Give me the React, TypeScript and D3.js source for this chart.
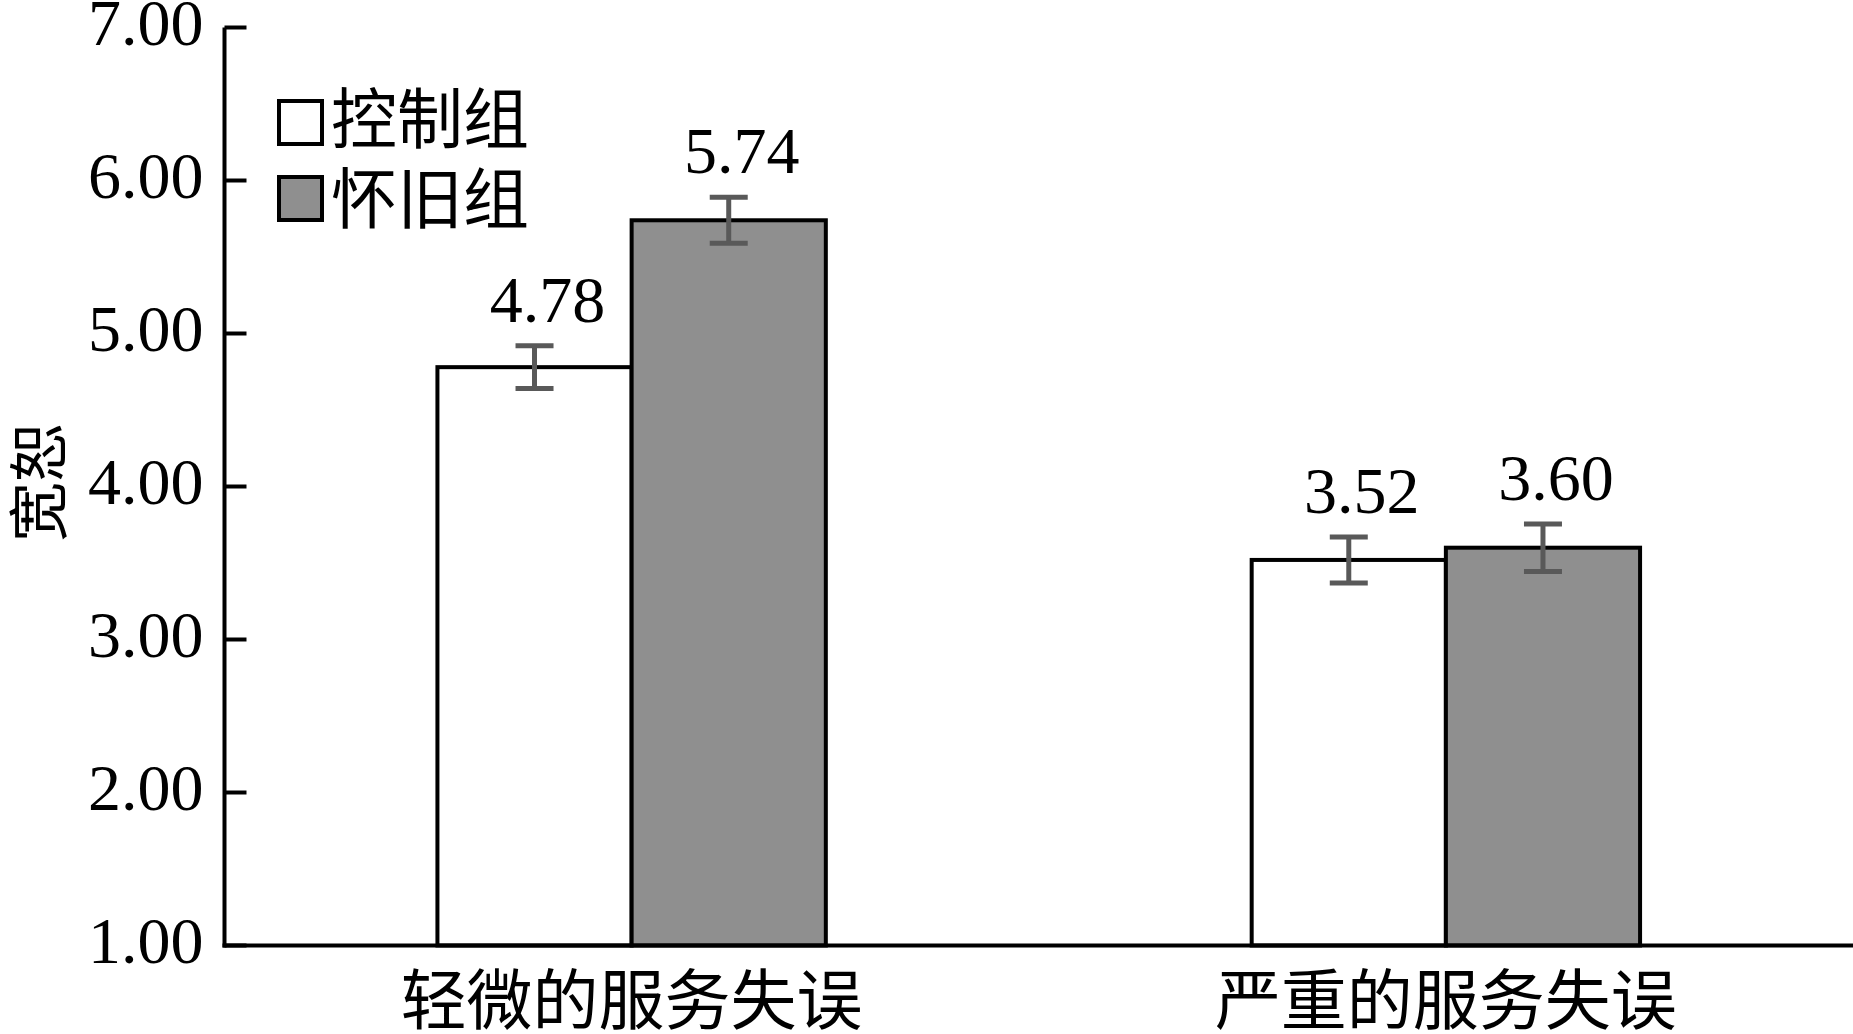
import React from "react";
import * as d3 from "d3";

const categories = ["轻微的服务失误", "严重的服务失误"];
const seriesNames = ["控制组", "怀旧组"];
const seriesColors = ["#ffffff", "#8f8f8f"];
const controlValues = [4.78, 3.52];
const nostalgiaValues = [5.74, 3.6];
const controlErrors = [0.14, 0.15];
const nostalgiaErrors = [0.15, 0.155];
const yTicks = [1, 2, 3, 4, 5, 6, 7];
const yLabel = "宽恕";

const W = 1853;
const H = 1034;
const left = 224.5;
const right = 1853;
const top = 27.5;
const bottom = 945.5;

const serif = "'Liberation Serif', 'Times New Roman', serif";
const cjk = "'Noto Sans CJK SC', 'Noto Sans CJK JP', sans-serif";

export default function App() {
  const x = d3.scaleBand<string>().domain(categories).range([left, right]).paddingInner(0.523).paddingOuter(0.2615);
  const inner = d3.scaleBand<string>().domain(seriesNames).range([0, x.bandwidth()]);
  const y = d3.scaleLinear().domain([1, 7]).range([bottom, top]);

  const series = [
    { name: seriesNames[0], values: controlValues, errors: controlErrors, color: seriesColors[0] },
    { name: seriesNames[1], values: nostalgiaValues, errors: nostalgiaErrors, color: seriesColors[1] },
  ];

  return (
    <svg width={W} height={H} style={{ position: "absolute", left: 0, top: 0, background: "#fff" }}>
      {/* bars */}
      {categories.map((c, ci) =>
        series.map((s) => {
          const bx = (x(c) as number) + (inner(s.name) as number);
          const bw = inner.bandwidth();
          const v = s.values[ci];
          return (
            <rect key={c + s.name} x={bx} y={y(v)} width={bw} height={bottom - y(v)} fill={s.color} stroke="#000" strokeWidth={4} />
          );
        })
      )}
      {/* error bars & labels */}
      {categories.map((c, ci) =>
        series.map((s) => {
          const cx = (x(c) as number) + (inner(s.name) as number) + inner.bandwidth() / 2;
          const v = s.values[ci];
          const e = s.errors[ci];
          const y1 = y(v + e);
          const y0 = y(v - e);
          const cap = 19;
          return (
            <g key={"e" + c + s.name}>
              <line x1={cx} x2={cx} y1={y1} y2={y0} stroke="#595959" strokeWidth={5} />
              <line x1={cx - cap} x2={cx + cap} y1={y1} y2={y1} stroke="#595959" strokeWidth={5} />
              <line x1={cx - cap} x2={cx + cap} y1={y0} y2={y0} stroke="#595959" strokeWidth={5} />
              <text x={cx + 13} y={y1 - 24} textAnchor="middle" fontFamily={serif} fontSize={66} fill="#000">
                {v.toFixed(2)}
              </text>
            </g>
          );
        })
      )}
      {/* axes */}
      <line x1={left} x2={left} y1={top} y2={bottom + 2} stroke="#000" strokeWidth={4} />
      <line x1={left - 2} x2={right} y1={bottom} y2={bottom} stroke="#000" strokeWidth={4} />
      {yTicks.map((t) => (
        <g key={t}>
          <line x1={left} x2={left + 22} y1={y(t)} y2={y(t)} stroke="#000" strokeWidth={4} />
          <text x={left - 21} y={y(t)} dy={17} textAnchor="end" fontFamily={serif} fontSize={66} fill="#000">
            {t.toFixed(2)}
          </text>
        </g>
      ))}
      {categories.map((c) => (
        <text key={c} x={(x(c) as number) + x.bandwidth() / 2} y={1024} textAnchor="middle" fontFamily={cjk} fontSize={66} fill="#000">
          {c}
        </text>
      ))}
      <text transform={`translate(34,482) rotate(-90)`} textAnchor="middle" dominantBaseline="central" fontFamily={cjk} fontSize={60} fill="#000">
        {yLabel}
      </text>
      {/* legend */}
      {series.map((s, i) => (
        <g key={"l" + s.name}>
          <rect x={279} y={101 + i * 76} width={43} height={43} fill={s.color} stroke="#000" strokeWidth={4} />
          <text x={331} y={143 + i * 80} fontFamily={cjk} fontSize={66} fill="#000">
            {s.name}
          </text>
        </g>
      ))}
    </svg>
  );
}
